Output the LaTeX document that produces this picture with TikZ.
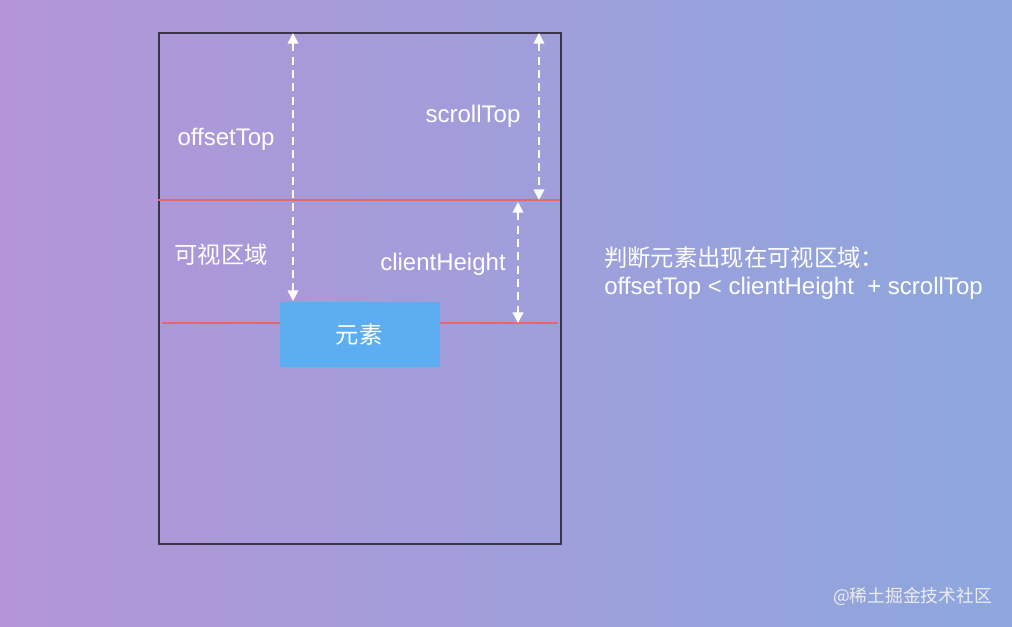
\documentclass[tikz,border=0pt]{standalone}
\usepackage{fontspec}
\setmainfont{Liberation Sans}
\newfontfamily\cjk{Noto Sans CJK SC}
\usetikzlibrary{arrows.meta}
\definecolor{bgL}{HTML}{B395D7}
\definecolor{bgR}{HTML}{8DA7DE}
\definecolor{redl}{HTML}{E0686E}
\definecolor{elem}{HTML}{5DAEF0}
\definecolor{frame}{HTML}{3A3548}
\begin{document}
\begin{tikzpicture}[x=0.75pt,y=-0.75pt,
  lbl/.style={text=white,font=\fontsize{18}{21}\selectfont,inner sep=0pt},
  cjklbl/.style={text=white,font=\cjk\fontsize{17.5}{21}\selectfont,inner sep=0pt},
  dim/.style={white,line width=1.3pt,dash pattern=on 6pt off 4pt,{Triangle[width=8pt,length=8pt]}-{Triangle[width=8pt,length=8pt]}},
  redline/.style={redl,line width=1pt}]
\shade[left color=bgL,right color=bgR] (0,0) rectangle (1012,626);
\useasboundingbox (0,0) rectangle (1012,626);
\node[draw=frame,line width=1.2pt,minimum width=402*0.75pt,minimum height=511*0.75pt,anchor=north west,inner sep=0pt] (frm) at (158,32) {};
\coordinate (r1a) at (158,200); \coordinate (r1b) at (560,200);
\coordinate (r2a) at (162,323); \coordinate (r2b) at (558,323);
\draw[redline] (r1a) -- (r1b);
\draw[redline] (r2a) -- (r2b);
\node[fill=elem,minimum width=160*0.75pt,minimum height=65*0.75pt,anchor=north west,inner sep=0pt] (el) at (280,302) {};
\node[cjklbl] (elt) at (359,335) {元素};
\coordinate (o1) at (293,33); \coordinate (o2) at (293,301);
\coordinate (s1) at (539,33); \coordinate (s2) at (539,200);
\coordinate (c1) at (518,202); \coordinate (c2) at (518,323);
\draw[dim] (o1) -- (o2);
\draw[dim] (s1) -- (s2);
\draw[dim] (c1) -- (c2);
\node[lbl] (lo) at (226,139) {offsetTop};
\node[lbl] (ls) at (473,116) {scrollTop};
\node[cjklbl] (lv) at (221,255) {可视区域};
\node[lbl] (lc) at (443,264) {clientHeight};
\node[cjklbl,anchor=west] (t1) at (604,258) {判断元素出现在可视区域：};
\node[lbl,anchor=west] (t2) at (604,288) {offsetTop < clientHeight\ \ + scrollTop};
\node[text=white!85!gray,font=\cjk\fontsize{13.3}{16}\selectfont,anchor=east,inner sep=0pt] (wm) at (992,596) {@稀土掘金技术社区};
\end{tikzpicture}
\end{document}
